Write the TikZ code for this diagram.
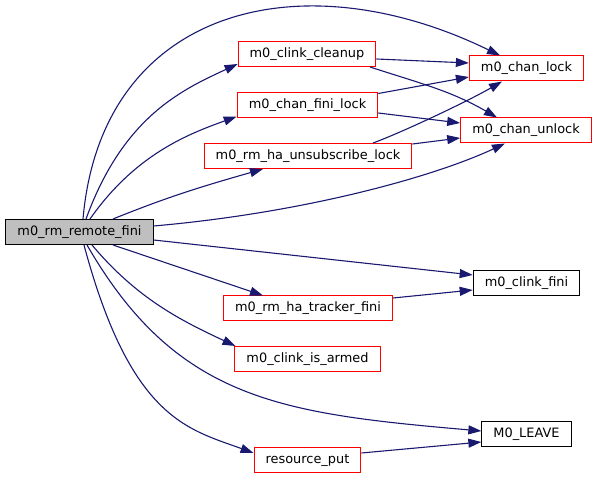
\documentclass[tikz,border=0pt]{standalone}
\usepackage{fontspec}
\setmainfont{DejaVu Sans}
\usepackage{tikz}
\usetikzlibrary{arrows.meta}
\definecolor{edgeblue}{HTML}{191970}
\definecolor{rootgray}{HTML}{BFBFBF}

\begin{document}
\begin{tikzpicture}[x=1pt, y=1pt,
    fn/.style={draw, line width=1pt, minimum height=25pt, inner xsep=11.6pt, inner ysep=0pt, font=\fontsize{12.9}{15}\selectfont},
    ref/.style={fn, draw=red},
    call/.style={draw=edgeblue, line width=1.1pt, -{Triangle[length=13pt,width=9pt]}}]
    \useasboundingbox (0,0) rectangle (597,479);
    \node[fn, fill=rootgray] (fini) at (79.5,247) {m0\_rm\_remote\_fini};
    \node[ref] (cleanup) at (307,425) {m0\_clink\_cleanup};
    \node[ref] (finilock) at (307.5,373.5) {m0\_chan\_fini\_lock};
    \node[ref] (unsub) at (308,323) {m0\_rm\_ha\_unsubscribe\_lock};
    \node[ref] (lock) at (526.5,410.5) {m0\_chan\_lock};
    \node[ref] (unlock) at (526,348.5) {m0\_chan\_unlock};
    \node[fn] (clinkfini) at (526.5,196) {m0\_clink\_fini};
    \node[ref] (tracker) at (308,170.5) {m0\_rm\_ha\_tracker\_fini};
    \node[ref] (armed) at (307.5,120) {m0\_clink\_is\_armed};
    \node[fn] (leave) at (526.5,44.5) {M0\_LEAVE};
    \node[ref] (put) at (307.5,18.5) {resource\_put};
    \draw[call] ([xshift=3.5pt]fini.north) to[out=85, in=154, out distance=212pt, in distance=222pt] ([xshift=-26.5pt]lock.north);
    \draw[call] ([xshift=6.5pt]fini.north) to[out=70, in=205, out distance=110pt, in distance=60pt] ([yshift=-10pt]cleanup.west);
    \draw[call] ([xshift=10.5pt]fini.north) to[out=55, in=200, out distance=80pt, in distance=50pt] ([yshift=-11pt]finilock.west);
    \draw[call] ([xshift=33.5pt]fini.north) to[out=22, in=196] ([xshift=-45pt]unsub.south);
    \draw[call] ([yshift=6pt]fini.east) to[out=5, in=205, out distance=150pt, in distance=80pt] ([xshift=-21pt]unlock.south);
    \draw[call] ([yshift=-8pt]fini.east) -- ([yshift=8pt]clinkfini.west);
    \draw[call] ([xshift=33.5pt]fini.south) -- ([xshift=-45pt]tracker.north);
    \draw[call] ([xshift=12.5pt]fini.south) to[out=-50, in=155, out distance=70pt, in distance=60pt] ([xshift=-72pt]armed.north);
    \draw[call] ([xshift=7.5pt]fini.south) to[out=-60, in=175, out distance=180pt, in distance=200pt] ([yshift=3.5pt]leave.west);
    \draw[call] ([xshift=4.5pt]fini.south) to[out=-75, in=160, out distance=180pt, in distance=70pt] ([yshift=7.5pt]put.west);
    \draw[call] ([yshift=-5pt]cleanup.east) -- ([yshift=5.5pt]lock.west);
    \draw[call] ([xshift=63pt]cleanup.south) to[out=-18, in=150] ([xshift=-29pt]unlock.north);
    \draw[call] ([yshift=12pt]finilock.east) -- ([yshift=-8.5pt]lock.west);
    \draw[call] ([yshift=-7.5pt]finilock.east) -- ([yshift=7.5pt]unlock.west);
    \draw[call] ([xshift=65pt]unsub.north) to[out=20, in=210, out distance=30pt, in distance=40pt] ([xshift=-24.5pt]lock.south);
    \draw[call] ([yshift=12pt]unsub.east) -- ([yshift=-7.5pt]unlock.west);
    \draw[call] ([yshift=10.5pt]tracker.east) -- ([yshift=-7pt]clinkfini.west);
    \draw[call] ([yshift=7.5pt]put.east) -- ([yshift=-7.5pt]leave.west);
\end{tikzpicture}
\end{document}
